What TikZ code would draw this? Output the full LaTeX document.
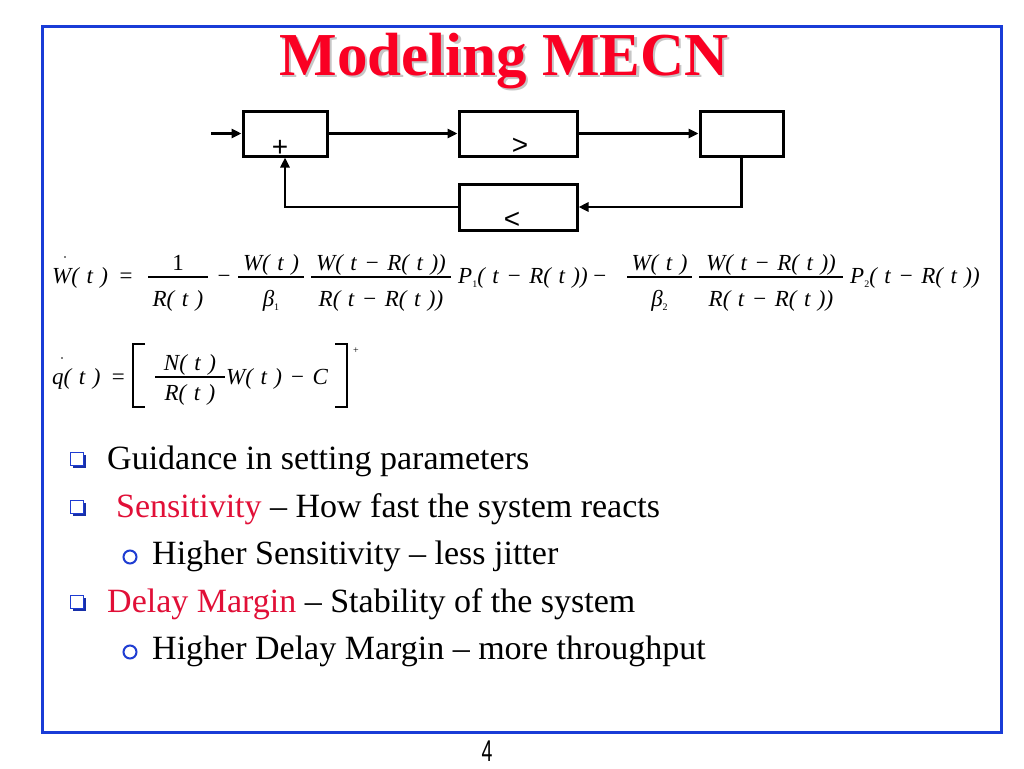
\documentclass[tikz,border=0pt]{standalone}
\usepackage{fontspec}
\setmainfont{Liberation Serif}
\newfontfamily\arialf{Liberation Sans}
\usetikzlibrary{arrows.meta,calc,shadows}
\definecolor{frameblue}{RGB}{25,60,215}
\definecolor{titlered}{RGB}{250,0,35}
\definecolor{keyred}{RGB}{225,15,55}
\definecolor{bulblue}{RGB}{30,60,210}
\newcommand\gp{\hspace{7.5pt}}
\newcommand\mn{\hspace{7.5pt}−\hspace{7.5pt}}
\newcommand\subn[1]{\raisebox{-4pt}{\upshape\fontsize{10}{10}\selectfont #1}}
\newcommand\efr[8]{%
  \draw[barline] (#2-#3,#4) -- (#2+#3,#4);
  \node[eqt,anchor=base] (#1n) at (#2,#5) {#7};
  \node[eqt,anchor=base] (#1d) at (#2,#6) {#8};
}
\begin{document}
\begin{tikzpicture}[x=1pt,y=-1pt,
  blk/.style={draw,line width=3pt,minimum width=84pt,minimum height=45pt,inner sep=0pt},
  conn/.style={line width=2.5pt,-{Triangle[length=10pt,width=9pt]}},
  sym/.style={font=\arialf\fontsize{28}{28}\selectfont,inner sep=0pt},
  eqt/.style={font=\itshape\fontsize{23}{23}\selectfont,inner sep=0pt},
  barline/.style={line width=1.3pt},
  btxt/.style={font=\fontsize{34}{34}\selectfont,inner sep=0pt,anchor=base west},
  sqbul/.style={draw=bulblue,line width=1.6pt,fill=white,minimum size=13pt,inner sep=0pt,
     drop shadow={shadow xshift=2pt,shadow yshift=-2pt,fill=bulblue!80!black,opacity=1}},
  cbul/.style={circle,draw=bulblue,line width=2pt,minimum size=13pt,inner sep=0pt}
]
\useasboundingbox (0,0) rectangle (1024,768);
\fill[white] (0,0) rectangle (1024,768);
% frame
\draw[frameblue,line width=3pt] (42,27) rectangle (1001,732);
% title
\node[inner sep=0pt,anchor=base,text=gray!45,font=\bfseries\fontsize{61}{61}\selectfont] (titsh) at (506.5,77.5) {Modeling MECN};
\node[inner sep=0pt,anchor=base,text=titlered,font=\bfseries\fontsize{61}{61}\selectfont] (title) at (504,75) {Modeling MECN};
% block diagram
\node[blk] (b1) at (285,133.5) {};
\node[blk,minimum width=118pt] (b2) at (518,133.5) {};
\node[blk,minimum width=83pt] (b3) at (741.5,133.5) {};
\node[blk,minimum width=118pt,minimum height=46pt] (b4) at (518,207) {};
\node[sym] (plus) at (280,148) {+};
\node[sym] (gt) at (520,146) {>};
\node[sym] (lt) at (512,220) {<};
\coordinate (in) at (211,133.5);
\draw[conn] (in) -- (b1.west);
\draw[conn] (b1.east) -- (b2.west);
\draw[conn] (b2.east) -- (b3.west);
\draw[conn] (b3.south) |- (b4.east);
\draw[conn] (b4.west) -| (b1.south);
% equation 1
\node[eqt,anchor=base west] (w1) at (52,283) {W(\gp t\gp )\hspace{10pt}=};
\fill (65,257) circle (0.9pt);
\efr{f1}{178}{30}{277}{270}{306}{\upshape 1}{R(\gp t\gp )}
\node[eqt,anchor=base] (m1) at (224,283) {−};
\efr{f2}{271}{33}{277}{270}{306}{W(\gp t\gp )}{β\subn{1}}
\efr{f3}{381}{70}{277}{270}{306}{W(\gp t\mn R(\gp t\gp ))}{R(\gp t\mn R(\gp t\gp ))}
\node[eqt,anchor=base west] (p1) at (458,283) {P\subn{1}(\gp t\mn R(\gp t\gp ))\hspace{4pt}−};
\efr{f4}{659.5}{32.5}{277}{270}{306}{W(\gp t\gp )}{β\subn{2}}
\efr{f5}{771}{72}{277}{270}{306}{W(\gp t\mn R(\gp t\gp ))}{R(\gp t\mn R(\gp t\gp ))}
\node[eqt,anchor=base west] (p2) at (850,283) {P\subn{2}(\gp t\mn R(\gp t\gp ))};
% equation 2
\node[eqt,anchor=base west] (q1) at (52,384) {q(\gp t\gp )\hspace{10pt}=};
\fill (62,358) circle (0.9pt);
\draw[line width=1.3pt] (145,344) -- (133,344) -- (133,407) -- (145,407);
\efr{f6}{190}{35}{377}{370}{400}{N(\gp t\gp )}{R(\gp t\gp )}
\node[eqt,anchor=base west] (wc) at (226,384) {W(\gp t\gp )\mn C};
\draw[line width=1.3pt] (335,344) -- (347,344) -- (347,407) -- (335,407);
\node[inner sep=0pt,font=\fontsize{10}{10}\selectfont] (sup) at (356,351) {+};
% bullets
\node[sqbul] (s1) at (77,459) {};
\node[btxt] (t1) at (107,469) {Guidance in setting parameters};
\node[sqbul] (s2) at (77,507) {};
\node[btxt] (t2) at (116,517) {\textcolor{keyred}{Sensitivity} – How fast the system reacts};
\node[cbul] (c1) at (130,557) {};
\node[btxt] (t3) at (152,564) {Higher Sensitivity – less jitter};
\node[sqbul] (s3) at (77,602) {};
\node[btxt] (t4) at (107,612) {\textcolor{keyred}{Delay Margin} – Stability of the system};
\node[cbul] (c2) at (130,652) {};
\node[btxt] (t5) at (152,659) {Higher Delay Margin – more throughput};
% page number
\node[inner sep=0pt,xscale=0.65,font=\arialf\fontsize{30}{30}\selectfont] (pg) at (487,751) {4};
\end{tikzpicture}
\end{document}
